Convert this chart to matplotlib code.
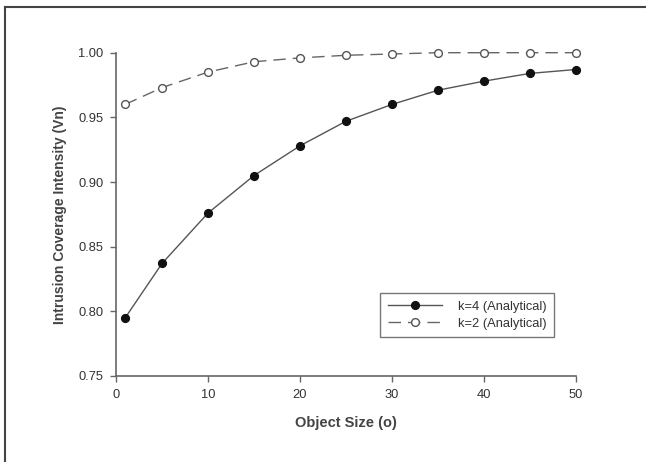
import matplotlib
matplotlib.use("Agg")
from matplotlib import pyplot as plt
from matplotlib.lines import Line2D

# object size (o)
obj_size = [1, 5, 10, 15, 20, 25, 30, 35, 40, 45, 50]
# intrusion coverage intensity
k4_vals = [0.795, 0.837, 0.876, 0.905, 0.928, 0.947, 0.960, 0.971, 0.978, 0.984, 0.987]
k2_vals = [0.960, 0.973, 0.985, 0.993, 0.996, 0.998, 0.999, 1.000, 1.000, 1.000, 1.000]

x_ticks = [0, 10, 20, 30, 40, 50]
y_ticks = [0.75, 0.80, 0.85, 0.90, 0.95, 1.00]

plt.rcParams["font.family"] = ["Liberation Sans", "DejaVu Sans"]

fig = plt.figure(figsize=(6.46, 4.62), dpi=100)
ax = fig.add_axes([116 / 646, 1 - 376 / 462, 460 / 646, 323.3 / 462])

ax.plot(obj_size, k4_vals, color="#555555", lw=1.0, marker="o", ms=5.6,
        mfc="#111111", mec="#111111", clip_on=False, zorder=3,
        label="k=4 (Analytical)")
ax.plot(obj_size, k2_vals, color="#666666", lw=1.0, ls=(0, (9, 5)), marker="o",
        ms=5.6, mfc="white", mec="#555555", mew=1.0, clip_on=False, zorder=3,
        label="k=2 (Analytical)")

ax.set_xlim(0, 50)
ax.set_ylim(0.75, 1.00)
ax.set_xticks(x_ticks)
ax.set_yticks(y_ticks)
ax.set_yticklabels([f"{v:.2f}" for v in y_ticks])

for side in ["top", "right"]:
    ax.spines[side].set_visible(False)
for side in ["left", "bottom"]:
    ax.spines[side].set_color("#666666")
    ax.spines[side].set_linewidth(1.2)
ax.tick_params(direction="out", length=4, width=1.0, color="#666666",
               labelsize=9.3, labelcolor="#333333", pad=5)

ax.set_xlabel("Object Size (o)", fontsize=10.5, fontweight="bold",
              color="#444444", labelpad=11)
ax.set_ylabel("Intrusion Coverage Intensity (Vn)", fontsize=10,
              fontweight="bold", color="#444444", labelpad=8)

leg = ax.legend(loc="lower left", bbox_to_anchor=(264 / 460, (376 - 337.3) / 323.3),
                frameon=True, fancybox=False, fontsize=9.3, handlelength=4.2,
                borderpad=0.6, labelspacing=0.35, handletextpad=1.2,
                borderaxespad=0)
leg.get_frame().set_edgecolor("#555555")
leg.get_frame().set_linewidth(1.0)
for t in leg.get_texts():
    t.set_color("#333333")

# outer frame of the figure (left and top edges only)
fig.add_artist(Line2D([5 / 646, 5 / 646], [0, 1 - 7 / 462], color="#444444",
                      lw=1.5, transform=fig.transFigure))
fig.add_artist(Line2D([5 / 646, 1], [1 - 7 / 462, 1 - 7 / 462], color="#444444",
                      lw=1.5, transform=fig.transFigure))

fig.savefig("out.png", dpi=100)
